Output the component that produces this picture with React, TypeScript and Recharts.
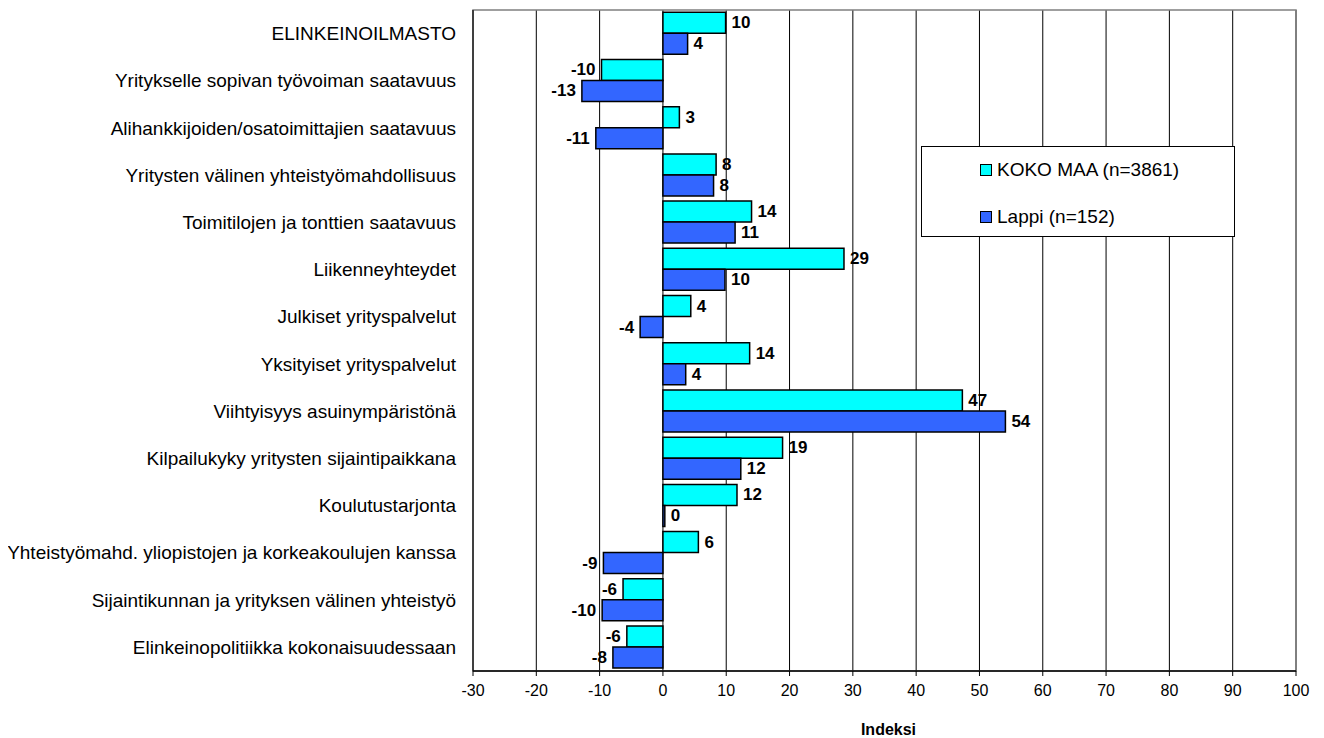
import React from 'react';
import { BarChart, Bar, XAxis, YAxis, CartesianGrid, Legend, LabelList, ReferenceArea, Label } from 'recharts';

const FONT = '"Liberation Sans", Arial, Helvetica, sans-serif';

const categories = [
  'ELINKEINOILMASTO',
  'Yritykselle sopivan työvoiman saatavuus',
  'Alihankkijoiden/osatoimittajien saatavuus',
  'Yritysten välinen yhteistyömahdollisuus',
  'Toimitilojen ja tonttien saatavuus',
  'Liikenneyhteydet',
  'Julkiset yrityspalvelut',
  'Yksityiset yrityspalvelut',
  'Viihtyisyys asuinympäristönä',
  'Kilpailukyky yritysten sijaintipaikkana',
  'Koulutustarjonta',
  'Yhteistyömahd. yliopistojen ja korkeakoulujen kanssa',
  'Sijaintikunnan ja yrityksen välinen yhteistyö',
  'Elinkeinopolitiikka kokonaisuudessaan',
];

const kokoMaa = [9.9, -9.7, 2.6, 8.4, 14.0, 28.6, 4.4, 13.7, 47.3, 18.9, 11.7, 5.6, -6.3, -5.7];
const lappi = [3.9, -12.8, -10.6, 8.0, 11.4, 9.8, -3.6, 3.6, 54.1, 12.3, 0.3, -9.4, -9.6, -7.9];

const xTicks = [-30, -20, -10, 0, 10, 20, 30, 40, 50, 60, 70, 80, 90, 100];

const seriesNames = { koko: 'KOKO MAA (n=3861)', lappi: 'Lappi (n=152)' };
const seriesColors = { koko: '#00FFFF', lappi: '#3366FF' };

const data = categories.map((name, i) => ({ name, koko: kokoMaa[i], lappi: lappi[i] }));

const CategoryTick = (props: any) => {
  const { x, y, payload } = props;
  return (
    <text x={x} y={y} textAnchor="end" dominantBaseline="central" fontSize={19} fontFamily={FONT} fill="#000">
      {payload.value}
    </text>
  );
};

const ValueLabel = (props: any) => {
  const { x, y, width, height, value } = props;
  const left = Math.min(x, x + width);
  const right = Math.max(x, x + width);
  const pos = value >= 0;
  return (
    <text
      x={pos ? right + 6 : left - 6}
      y={y + height / 2}
      textAnchor={pos ? 'start' : 'end'}
      dominantBaseline="central"
      fontSize={17}
      fontWeight="bold"
      fontFamily={FONT}
      fill="#000"
    >
      {Math.round(value)}
    </text>
  );
};

const LegendBox = () => (
  <div
    style={{
      position: 'relative',
      width: 314,
      height: 91,
      boxSizing: 'border-box',
      border: '1px solid #000',
      background: '#fff',
      fontFamily: FONT,
      fontSize: 19,
      color: '#000',
    }}
  >
    {(['koko', 'lappi'] as const).map((k, i) => (
      <div key={k} style={{ position: 'absolute', left: 58, top: i === 0 ? 11 : 58, height: 24, display: 'flex', alignItems: 'center' }}>
        <span style={{ display: 'inline-block', width: 12, height: 12, boxSizing: 'border-box', border: '1px solid #000', background: seriesColors[k], marginRight: 5 }} />
        <span style={{ whiteSpace: 'nowrap' }}>{seriesNames[k]}</span>
      </div>
    ))}
  </div>
);

export default function App() {
  return (
    <div style={{ width: 1316, height: 730, background: '#fff' }}>
      <BarChart
        width={1316}
        height={730}
        data={data}
        layout="vertical"
        margin={{ top: 2, right: 28, left: 0, bottom: 0 }}
        barCategoryGap="4.8%"
        barGap={0}
      >
        <CartesianGrid vertical horizontal={false} stroke="#000" strokeWidth={1} />
        <ReferenceArea x1={-30} x2={100} fill="none" stroke="#808080" strokeWidth={1.5} ifOverflow="extendDomain" />
        <XAxis
          type="number"
          domain={[-30, 100]}
          ticks={xTicks}
          interval={0}
          height={67}
          tickSize={5}
          tickMargin={9}
          axisLine={{ stroke: '#000', strokeWidth: 1.5 }}
          tickLine={{ stroke: '#000' }}
          tick={{ fontSize: 16, fill: '#000', fontFamily: FONT }}
        >
          <Label value="Indeksi" position="insideBottom" offset={3} dx={4} style={{ fontSize: 16, fontWeight: 'bold', fill: '#000', fontFamily: FONT }} />
        </XAxis>
        <YAxis
          type="category"
          dataKey="name"
          width={465}
          tickSize={0}
          tickMargin={17}
          tickLine={false}
          axisLine={{ stroke: '#000' }}
          tick={<CategoryTick />}
          interval={0}
        />
        <Legend
          layout="vertical"
          align="center"
          verticalAlign="middle"
          content={<LegendBox />}
          wrapperStyle={{ left: 913, top: 138, width: 314, height: 91 }}
        />
        <Bar dataKey="koko" name={seriesNames.koko} fill={seriesColors.koko} stroke="#000" strokeWidth={1.5} isAnimationActive={false}>
          <LabelList dataKey="koko" content={<ValueLabel />} />
        </Bar>
        <Bar dataKey="lappi" name={seriesNames.lappi} fill={seriesColors.lappi} stroke="#000" strokeWidth={1.5} isAnimationActive={false}>
          <LabelList dataKey="lappi" content={<ValueLabel />} />
        </Bar>
      </BarChart>
    </div>
  );
}
